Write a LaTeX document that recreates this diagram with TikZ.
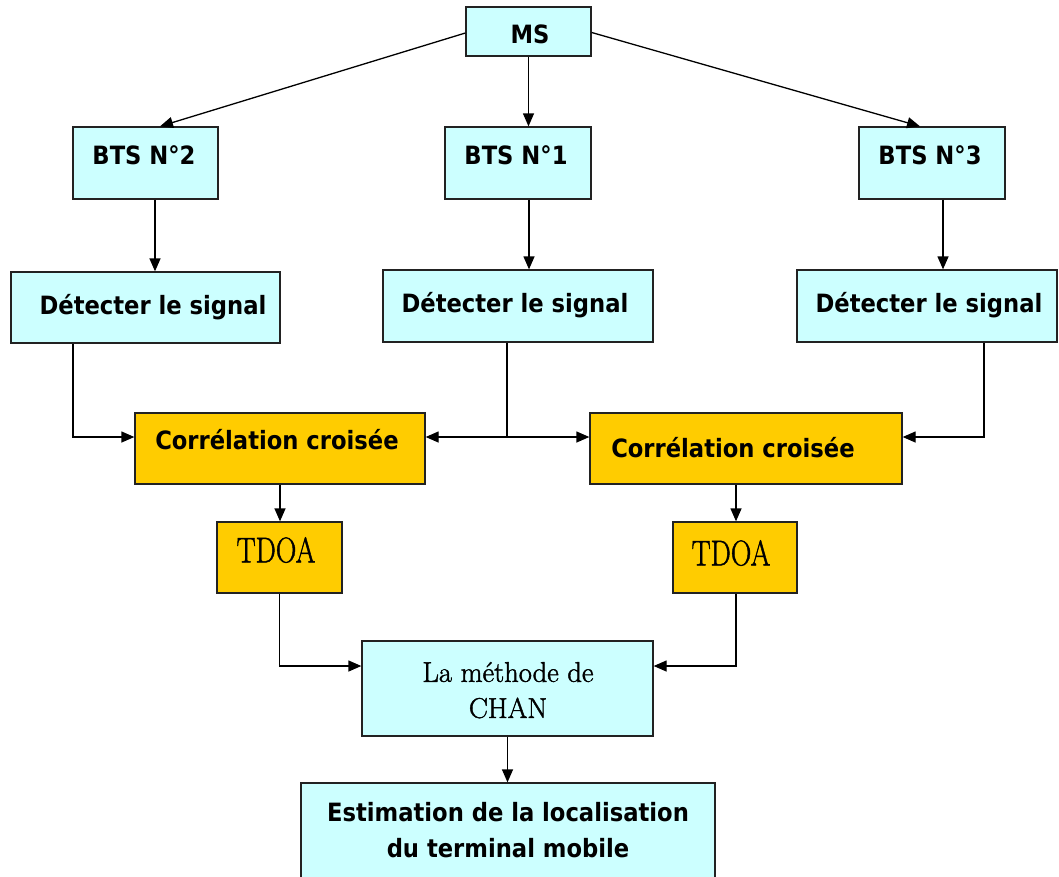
\documentclass[tikz,border=0pt]{standalone}
\usepackage{fontspec}
\usepackage{graphicx}
\newfontfamily\sansf{DejaVu Sans Condensed Bold}
\newfontfamily\serf[FakeBold=1.5]{Latin Modern Roman}
\usetikzlibrary{arrows.meta,calc}
\definecolor{lcyan}{HTML}{CCFFFF}
\definecolor{lorange}{HTML}{FFCC00}
\definecolor{bord}{HTML}{222222}
\newcommand{\vstretch}[2]{\scalebox{1}[#1]{#2}}
\begin{document}
\begin{tikzpicture}[x=1pt,y=-1pt,
  cbox/.style={draw=bord,line width=1.3pt,fill=lcyan,inner sep=0pt},
  obox/.style={draw=bord,line width=1.3pt,fill=lorange,inner sep=0pt},
  stxt/.style={font=\sansf\fontsize{25.2}{36}\selectfont,inner sep=0pt},
  rtxt/.style={font=\serf\fontsize{28.5}{36}\selectfont,inner sep=0pt},
  arr/.style={line width=1.3pt,draw=black,-{Triangle[length=13pt,width=11pt]}},
  ln/.style={line width=1.3pt,draw=black}]
\useasboundingbox (0,0) rectangle (1059,876);
% boxes
\node[cbox,minimum width=125pt,minimum height=49pt] (ms) at (528.5,31.5) {};
\node[cbox,minimum width=145pt,minimum height=72pt] (bts2) at (145.5,163) {};
\node[cbox,minimum width=146pt,minimum height=72pt] (bts1) at (518,163) {};
\node[cbox,minimum width=146pt,minimum height=72pt] (bts3) at (932,163) {};
\node[cbox,minimum width=269pt,minimum height=71pt] (detL) at (145.5,307.5) {};
\node[cbox,minimum width=270pt,minimum height=72pt] (detM) at (518,306) {};
\node[cbox,minimum width=260pt,minimum height=72pt] (detR) at (927,306) {};
\node[obox,minimum width=290pt,minimum height=71pt] (corL) at (280,448.5) {};
\node[obox,minimum width=312pt,minimum height=71pt] (corR) at (746,448.5) {};
\node[obox,minimum width=125pt,minimum height=71pt] (tdoaL) at (279.5,557.5) {};
\node[obox,minimum width=124pt,minimum height=71pt] (tdoaR) at (735,557.5) {};
\node[cbox,minimum width=291pt,minimum height=95pt] (chan) at (507.5,688.5) {};
\node[cbox,minimum width=414pt,minimum height=97pt] (est) at (508,831.5) {};
% texts
\node[stxt] (tms) at (530,34) {MS};
\node[stxt] (tb2) at (144,155) {BTS N°2};
\node[stxt] (tb1) at (516,155) {BTS N°1};
\node[stxt] (tb3) at (930,155) {BTS N°3};
\node[stxt] (tdl) at (153,307) {Détecter le signal};
\node[stxt] (tdm) at (515,305) {Détecter le signal};
\node[stxt] (tdr) at (929,305) {Détecter le signal};
\node[stxt] (tcl) at (277,440) {Corrélation croisée};
\node[stxt] (tcr) at (733,448) {Corrélation croisée};
\node[rtxt] (ttl) at (276,550) {\vstretch{1.25}{TDOA}};
\node[rtxt] (ttr) at (731,553) {\vstretch{1.25}{TDOA}};
\node[rtxt] (tch1) at (508,672) {La méthode de};
\node[rtxt] (tch2) at (508,708) {CHAN};
\node[stxt] (tes1) at (508,812) {Estimation de la localisation};
\node[stxt] (tes2) at (508,848) {du terminal mobile};
% connectors
\coordinate (b2t) at ([xshift=14.5pt]bts2.north);
\coordinate (b3t) at ([xshift=-12pt]bts3.north);
\draw[arr] ([yshift=-1.5pt]ms.west) -- (b2t);
\draw[arr] ([yshift=-1pt]ms.east) -- (b3t);
\draw[arr] (ms.south) -- (ms.south |- bts1.north);
\coordinate (b2s) at ([xshift=9.5pt]bts2.south);
\coordinate (b1s) at ([xshift=11pt]bts1.south);
\coordinate (b3s) at ([xshift=11pt]bts3.south);
\draw[arr] (b2s) -- (b2s |- detL.north);
\draw[arr] (b1s) -- (b1s |- detM.north);
\draw[arr] (b3s) -- (b3s |- detR.north);
\coordinate (dL) at ([xshift=-72.5pt]detL.south);
\coordinate (dM) at ([xshift=-11pt]detM.south);
\coordinate (dR) at ([xshift=57pt]detR.south);
\coordinate (cLw) at ([yshift=11.5pt]corL.west);
\coordinate (cLe) at ([yshift=11.5pt]corL.east);
\coordinate (cRw) at ([yshift=11.5pt]corR.west);
\coordinate (cRe) at ([yshift=11.5pt]corR.east);
\coordinate (jM) at (dM |- cLw);
\draw[arr] (dL) |- (cLw);
\draw[ln] (dM) -- (jM);
\draw[arr] (jM) -- (cLe);
\draw[arr] (jM) -- (cRw);
\draw[arr] (dR) |- (cRe);
\coordinate (cRs) at ([xshift=-10pt]corR.south);
\draw[arr] (corL.south) -- (corL.south |- tdoaL.north);
\draw[arr] (cRs) -- (cRs |- tdoaR.north);
\coordinate (chw) at ([yshift=22.5pt]chan.west);
\coordinate (che) at ([yshift=22.5pt]chan.east);
\coordinate (tRs) at ([xshift=1pt]tdoaR.south);
\draw[arr] (tdoaL.south) |- (chw);
\draw[arr] (tRs) |- (che);
\draw[arr] (chan.south) -- (chan.south |- est.north);
\end{tikzpicture}
\end{document}
